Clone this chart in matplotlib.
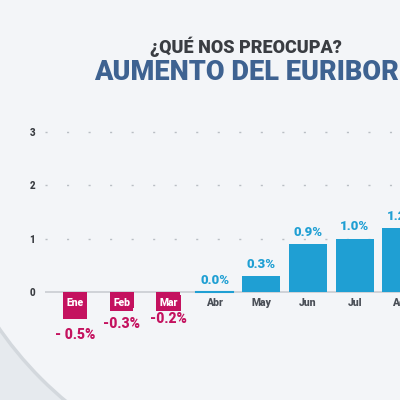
import numpy as np
import matplotlib.pyplot as plt
from matplotlib.patches import Circle

meses = ['Ene', 'Feb', 'Mar', 'Abr', 'May', 'Jun', 'Jul', 'Ago']
valores = [-0.5, -0.3, -0.2, 0.0, 0.3, 0.9, 1.0, 1.2]
etiquetas = ['- 0.5%', '-0.3%', '-0.2%', '0.0%', '0.3%', '0.9%', '1.0%', '1.2%']
yticks = [0, 1, 2, 3]

rosa = '#c4125f'
azul = '#1f9fd3'
gris = '#4a4f57'
fuente = ['Roboto', 'DejaVu Sans']

fig = plt.figure(figsize=(4, 4), dpi=100)
fig.patch.set_facecolor('#e6eaee')

# fondo: gran circulo claro
fondo = Circle((0.75, 0.70), 0.915, transform=fig.transFigure,
               facecolor='#f3f5f8', edgecolor='#d3d8dd', lw=2.5, zorder=-5)
fig.patches.append(fondo)

ax = fig.add_axes([45/400, 0, 355/400, 0.7])
ax.set_zorder(2)
ax.patch.set_alpha(0)
for s in ax.spines.values():
    s.set_visible(False)

x = np.arange(len(meses)) * 1.0
anchos = [0.515 if v < 0 else 0.815 for v in valores]
colores = [rosa if v < 0 else azul for v in valores]

ax.set_xlim(-0.644, 6.974)
ax.set_ylim(-2.026, 3.225)

for yy in yticks[1:]:
    ax.axhline(yy, color='#b9bec4', lw=1, ls=(0, (1.5, 14)), zorder=1)
ax.axhline(0, color='#c9cdd2', lw=1.2, zorder=1)

ax.bar(x, valores, width=anchos, color=colores, zorder=2)
# barra de Abr (0.0) se ve como una linea fina
ax.plot([x[3] - 0.4, x[3] + 0.4], [0, 0], color=azul, lw=1.5, zorder=3)

for xi, v, m, et in zip(x, valores, meses, etiquetas):
    if v < 0:
        ax.text(xi, -0.21, m, ha='center', va='center', color='white',
                fontsize=7.5, fontweight='heavy', zorder=4, family=fuente,
                bbox=dict(boxstyle='square,pad=0.3', fc=rosa, ec='none'))
        ax.text(xi, v - 0.3, et, ha='center', va='center', color=rosa,
                fontsize=10, fontweight='heavy', family=fuente)
    else:
        ax.text(xi, -0.21, m, ha='center', va='center', color=gris,
                fontsize=7.5, fontweight='heavy', family=fuente)
        ax.text(xi, v + 0.1, et, ha='center', va='bottom', color=azul,
                fontsize=9.5, fontweight='heavy', family=fuente)

ax.set_xticks([])
ax.set_yticks(yticks)
ax.set_yticklabels([str(t) for t in yticks], fontsize=7, fontweight='heavy',
                   color='#3a3d42', family=fuente)
ax.tick_params(axis='y', length=0, pad=7)

fig.text(0.615, 0.884, '¿QUÉ NOS PREOCUPA?', ha='center', va='center',
         fontsize=13, fontweight='heavy', color='#3a3d42', family=fuente)
fig.text(0.615, 0.819, 'AUMENTO DEL EURIBOR', ha='center', va='center',
         fontsize=19.5, fontweight='heavy', color='#3e6291', family=fuente)

plt.savefig('out.png', dpi=100, facecolor=fig.get_facecolor())
